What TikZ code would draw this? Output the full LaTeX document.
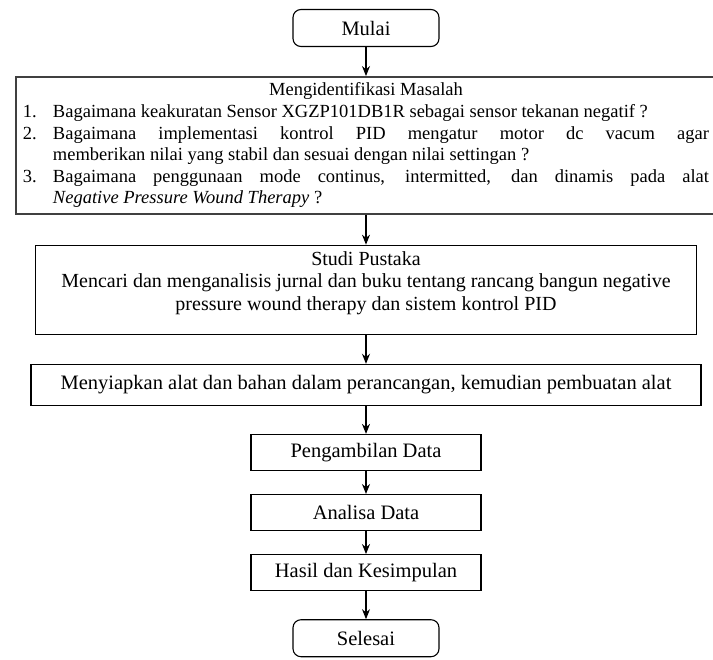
\documentclass[tikz,border=0pt]{standalone}
\usepackage{fontspec}
\setmainfont{Liberation Serif}
\usetikzlibrary{positioning, arrows.meta}
\newcommand{\butir}[2]{\par\noindent\hangindent=30pt\hangafter=1\makebox[30pt][l]{#1}#2\par}

\begin{document}
\begin{tikzpicture}[x=1pt, y=-1pt, node distance=30pt,
    box/.style = {draw, rectangle, line width=1.1pt, inner sep=0pt, font=\fontsize{20.5}{23}\selectfont},
    terminal/.style = {box, rounded corners=8pt, minimum width=146pt, minimum height=37pt},
    step box/.style = {box, minimum width=230pt, minimum height=36pt},
    flow/.style = {-{Stealth[length=10pt, width=8pt]}, line width=1.1pt}]
    \useasboundingbox (0,0) rectangle (713,660);

    \node[terminal] (mulai) at (366,28) {Mulai};
    \node[box, below=29pt of mulai, text width=686pt, inner xsep=7pt, inner ysep=6pt,
          align=justify, draw=black!75, line width=1.6pt,
          font=\fontsize{18.5}{21.6}\selectfont] (masalah) {%
        {\centering Mengidentifikasi Masalah\par}
        \butir{1.}{Bagaimana keakuratan Sensor XGZP101DB1R sebagai sensor tekanan negatif ?}
        \butir{2.}{Bagaimana implementasi kontrol PID mengatur motor dc vacum agar\linebreak memberikan nilai yang stabil dan sesuai dengan nilai settingan ?}
        \butir{3.}{Bagaimana penggunaan mode continus, intermitted, dan dinamis pada alat\linebreak \textit{Negative Pressure Wound Therapy} ?}};
    \node[box, below=30pt of masalah, inner sep=0pt, font=\fontsize{20}{22.5}\selectfont] (studi) {%
        \begin{minipage}[t][89pt][t]{661pt}\centering
        \vspace{6pt}
        Studi Pustaka\\
        Mencari dan menganalisis jurnal dan buku tentang rancang bangun negative\\
        pressure wound therapy dan sistem kontrol PID
        \end{minipage}};
    \node[box, below=29pt of studi, minimum width=670pt, minimum height=41pt] (siapkan)
        {Menyiapkan alat dan bahan dalam perancangan, kemudian pembuatan alat};
    \node[step box, below=28pt of siapkan] (ambil) {Pengambilan Data};
    \node[step box, below=23pt of ambil] (analisa) {Analisa Data};
    \node[step box, below=23pt of analisa] (hasil) {Hasil dan Kesimpulan};
    \node[terminal, below=28pt of hasil] (selesai) {Selesai};

    \draw[flow] (mulai) -- (masalah);
    \draw[flow] (masalah) -- (studi);
    \draw[flow] (studi) -- (siapkan);
    \draw[flow] (siapkan) -- (ambil);
    \draw[flow] (ambil) -- (analisa);
    \draw[flow] (analisa) -- (hasil);
    \draw[flow] (hasil) -- (selesai);
\end{tikzpicture}
\end{document}
